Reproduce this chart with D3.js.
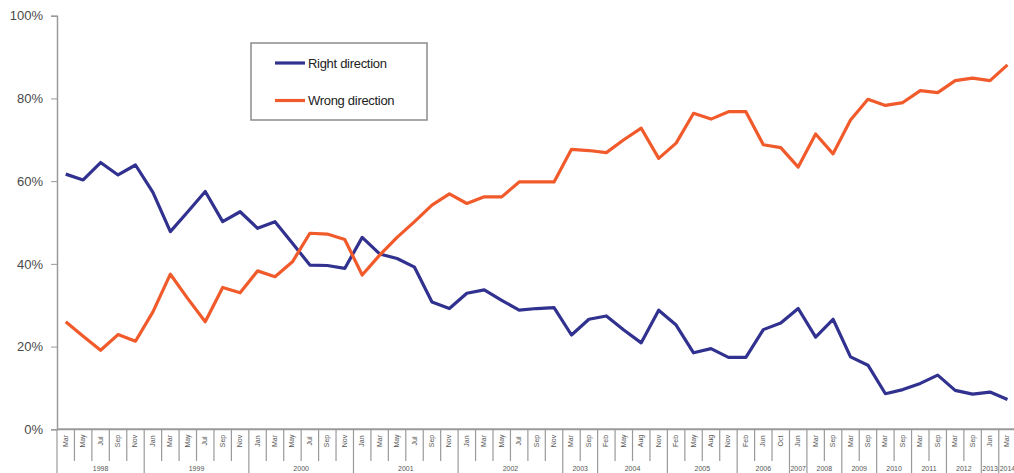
<!DOCTYPE html>
<html>
<head>
<meta charset="utf-8">
<script src="https://cdn.jsdelivr.net/npm/d3@7"></script>
<style>
  html, body { margin: 0; padding: 0; background: #fff; }
  svg { display: block; font-family: 'Liberation Sans', Arial, sans-serif; }
</style>
</head>
<body>
<svg id="chart" width="1014" height="473"></svg>
<script>
'use strict';

// values, one per survey
var rightDirection = [
  61.7, 60.3, 64.5, 61.5, 63.9,
  57.3, 47.8, 52.6, 57.5, 50.2, 52.6,
  48.6, 50.2, 45.0, 39.7, 39.6, 38.9,
  46.4, 42.4, 41.3, 39.2, 30.8, 29.2,
  32.9, 33.7, 31.2, 28.8, 29.2, 29.4,
  22.8, 26.6,
  27.4, 24.0, 20.9, 28.8,
  25.2, 18.5, 19.5, 17.4,
  17.4, 24.1, 25.7,
  29.2,
  22.3, 26.6,
  17.5, 15.5,
  8.6, 9.6,
  11.1, 13.1,
  9.4, 8.5,
  9.0,
  7.2
];

var wrongDirection = [
  26.0, 22.5, 19.1, 22.9, 21.3,
  28.4, 37.5, 31.6, 26.0, 34.3, 33.0,
  38.3, 36.9, 40.5, 47.4, 47.2, 45.9,
  37.3, 42.1, 46.4, 50.2, 54.2, 56.9,
  54.6, 56.2, 56.2, 59.8, 59.8, 59.8,
  67.7, 67.4,
  66.9, 70.0, 72.8, 65.5,
  69.2, 76.4, 75.0, 76.8,
  76.8, 68.8, 68.1,
  63.4,
  71.4, 66.6,
  74.8, 79.8,
  78.3, 79.0,
  81.9, 81.4,
  84.3, 84.9,
  84.3,
  88.1
];

// top level of the category axis and how many surveys fall in each
var years = ['1998', '1999', '2000', '2001', '2002', '2003', '2004', '2005', '2006',
  '2007', '2008', '2009', '2010', '2011', '2012', '2013', '2014'];
var yearCounts = [5, 6, 6, 6, 6, 2, 4, 4, 3, 1, 2, 2, 2, 2, 2, 1, 1];

// second level (months), same order as the values
var months = [
  'Mar', 'May', 'Jul', 'Sep', 'Nov',
  'Jan', 'Mar', 'May', 'Jul', 'Sep', 'Nov',
  'Jan', 'Mar', 'May', 'Jul', 'Sep', 'Nov',
  'Jan', 'Mar', 'May', 'Jul', 'Sep', 'Nov',
  'Jan', 'Mar', 'May', 'Jul', 'Sep', 'Nov',
  'Mar', 'Sep',
  'Feb', 'May', 'Aug', 'Nov',
  'Feb', 'May', 'Aug', 'Nov',
  'Feb', 'Jun', 'Oct',
  'Jun',
  'Mar', 'Sep',
  'Mar', 'Sep',
  'Mar', 'Sep',
  'Mar', 'Sep',
  'Mar', 'Sep',
  'Jun',
  'Mar'
];

var yTicks = [0, 20, 40, 60, 80, 100];

var seriesNames = ['Right direction', 'Wrong direction'];
var seriesColors = ['#31318f', '#f15a2b'];

function drawChart() {
  var svg = d3.select('#chart');
  var left = 57, right = 1016.2, top = 15.7, bottom = 429.3;
  var axisColor = '#9a9a9a';

  var x = d3.scaleBand()
    .domain(d3.range(months.length))
    .range([left, right]);

  var y = d3.scaleLinear()
    .domain([0, 100])
    .range([bottom, top]);

  // y axis
  var yAxis = svg.append('g')
    .attr('transform', 'translate(' + left + ',0)')
    .call(d3.axisLeft(y)
      .tickValues(yTicks)
      .tickSize(6)
      .tickPadding(8)
      .tickFormat(function(d) { return d + '%'; }));
  yAxis.select('.domain').attr('stroke', axisColor).attr('stroke-width', 1.5);
  yAxis.selectAll('.tick line').attr('stroke', axisColor);
  yAxis.selectAll('.tick text')
    .attr('fill', '#4a4a4a')
    .style('font-size', '13px')
    .style('font-family', "'Liberation Sans', Arial, sans-serif");

  // x axis: month ticks, then year groups
  svg.append('line')
    .attr('x1', left).attr('x2', right)
    .attr('y1', bottom).attr('y2', bottom)
    .attr('stroke', axisColor)
    .attr('stroke-width', 2);

  var bounds = [0];
  _cumulate(yearCounts, bounds);

  var xAxis = svg.append('g').attr('class', 'x-months');
  xAxis.selectAll('line')
    .data(d3.range(months.length + 1))
    .enter()
    .append('line')
    .attr('x1', function(i) { return i < months.length ? x(i) : right; })
    .attr('x2', function(i) { return i < months.length ? x(i) : right; })
    .attr('y1', bottom)
    .attr('y2', function(i) { return bounds.indexOf(i) >= 0 ? 473 : 461; })
    .attr('stroke', axisColor)
    .attr('stroke-width', 1.2);

  xAxis.selectAll('text')
    .data(months)
    .enter()
    .append('text')
    .attr('transform', function(d, i) {
      return 'translate(' + (x(i) + x.bandwidth() / 2 + 2) + ',441) rotate(-90)';
    })
    .attr('text-anchor', 'middle')
    .attr('fill', '#555')
    .style('font-size', '7px')
    .text(function(d) { return d; });

  svg.append('g').attr('class', 'x-years')
    .selectAll('text')
    .data(years)
    .enter()
    .append('text')
    .attr('x', function(d, i) {
      var a = x(bounds[i]);
      var b = bounds[i + 1] < months.length ? x(bounds[i + 1]) : right;
      return (a + b) / 2;
    })
    .attr('y', 471)
    .attr('text-anchor', 'middle')
    .attr('fill', '#555')
    .style('font-size', '7px')
    .text(function(d) { return d; });

  // lines
  var line = d3.line()
    .x(function(d, i) { return x(i) + x.bandwidth() / 2; })
    .y(function(d) { return y(d); });

  [rightDirection, wrongDirection].forEach(function(values, k) {
    svg.append('path')
      .datum(values)
      .attr('d', line)
      .attr('fill', 'none')
      .attr('stroke', seriesColors[k])
      .attr('stroke-width', 3.2)
      .attr('stroke-linejoin', 'round');
  });

  // legend
  var legend = svg.append('g').attr('class', 'legend');
  legend.append('rect')
    .attr('x', 251).attr('y', 43)
    .attr('width', 176).attr('height', 77)
    .attr('fill', '#fff')
    .attr('stroke', '#8c8c8c')
    .attr('stroke-width', 1.5);

  var rows = legend.selectAll('g.row')
    .data(seriesNames)
    .enter()
    .append('g')
    .attr('class', 'row')
    .attr('transform', function(d, i) { return 'translate(275,' + (63 + i * 37.5) + ')'; });
  rows.append('line')
    .attr('x1', 0).attr('x2', 30)
    .attr('stroke', function(d, i) { return seriesColors[i]; })
    .attr('stroke-width', 3.2);
  rows.append('text')
    .attr('x', 33)
    .attr('dy', '0.35em')
    .attr('fill', '#222')
    .style('font-size', '13px')
    .style('letter-spacing', '-0.3px')
    .text(function(d) { return d; });
}

function _cumulate(counts, out) {
  counts.forEach(function(c) {
    out.push(out[out.length - 1] + c);
  });
}

drawChart();
</script>
</body>
</html>
